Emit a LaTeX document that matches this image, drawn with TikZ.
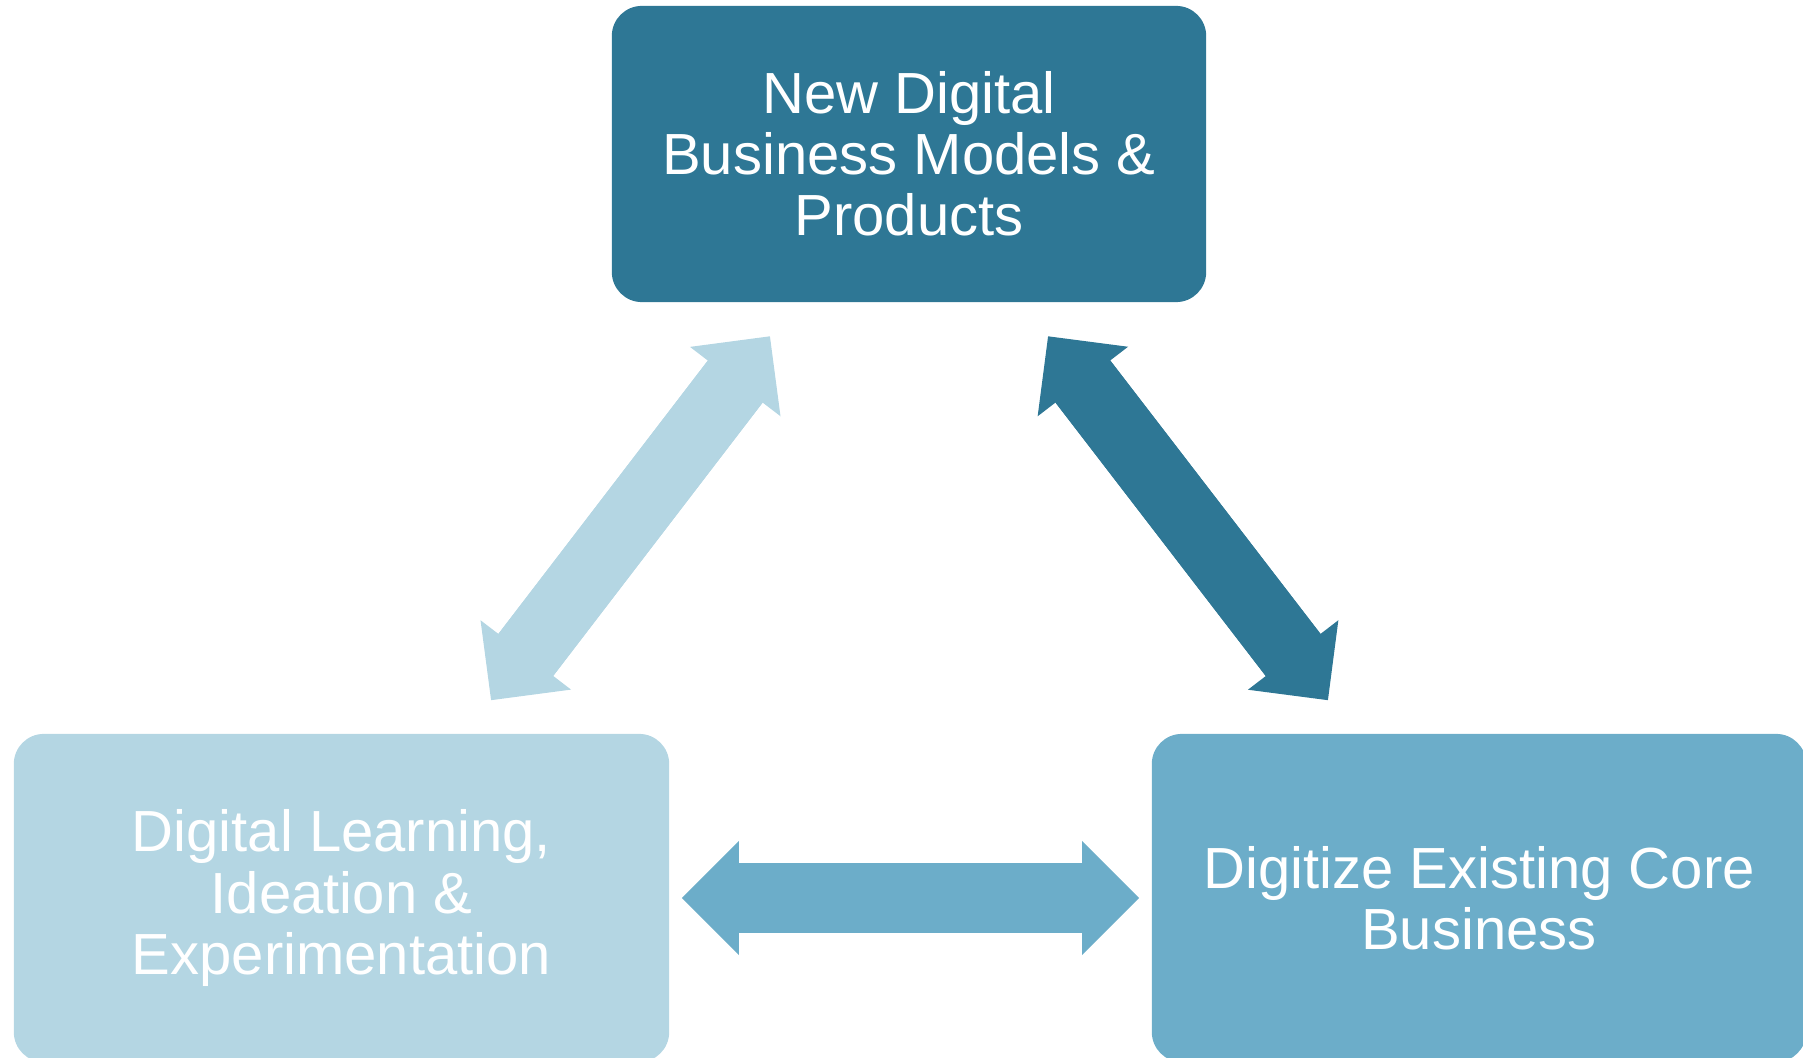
\documentclass[tikz,border=0pt]{standalone}
\usepackage{fontspec}
\setmainfont{Liberation Sans}
\usetikzlibrary{arrows.meta}
\definecolor{darkteal}{RGB}{46,119,149}
\definecolor{midteal}{RGB}{108,173,201}
\definecolor{lightteal}{RGB}{180,214,227}

\begin{document}
\begin{tikzpicture}[x=0.01cm,y=0.01cm]
        \tikzstyle{every node}=[font=\fontsize{16.5}{17.4}\selectfont,text=white,align=center]
        \tikzstyle{box}=[rounded corners=0.3cm,inner sep=0pt]
        \tikzstyle{dbl}=[line width=0.69cm,{Triangle[length=0.57cm,width=1.14cm,line width=0pt]}-{Triangle[length=0.57cm,width=1.14cm,line width=0pt]},
            postaction={draw,-,shorten <=0.4cm,shorten >=0.4cm}]
        \useasboundingbox (0,0) rectangle (1803,1057);

        % the three boxes
        \node[box,fill=darkteal,minimum width=5.94cm,minimum height=2.96cm] (products) at (909,903) {New Digital\\Business Models \&\\Products};
        \node[box,fill=lightteal,minimum width=6.55cm,minimum height=3.28cm] (learning) at (341.5,159) {Digital Learning,\\Ideation \&\\Experimentation};
        \node[box,fill=midteal,minimum width=6.54cm,minimum height=3.28cm] (core) at (1479,159) {Digitize Existing Core\\Business};

        % arrow ends
        \coordinate (lt) at ([xshift=-1.39cm,yshift=-0.335cm]products.south);
        \coordinate (rt) at ([xshift=1.39cm,yshift=-0.335cm]products.south);
        \coordinate (lb) at ([xshift=1.495cm,yshift=0.33cm]learning.north);
        \coordinate (rb) at ([xshift=-1.51cm,yshift=0.33cm]core.north);
        \coordinate (hl) at ([xshift=0.12cm]learning.east);
        \coordinate (hr) at ([xshift=-0.12cm]core.west);

        \draw[dbl,lightteal] (lb) -- (lt);
        \draw[dbl,darkteal] (rt) -- (rb);
        \draw[dbl,midteal] (hl) -- (hr);
\end{tikzpicture}
\end{document}
